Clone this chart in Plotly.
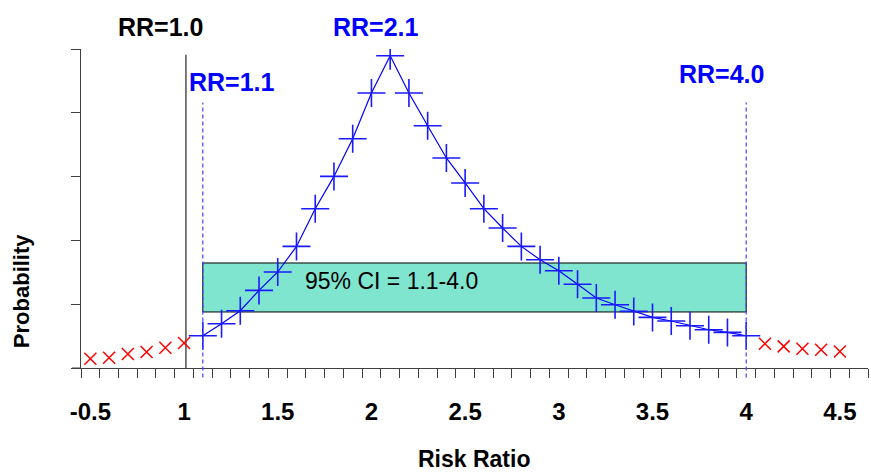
import plotly.graph_objects as go

# ---- data (y in axis units; y axis has 5 unlabeled intervals) ----
rr_low = [0.5, 0.6, 0.7, 0.8, 0.9, 1.0]
prob_low = [0.146, 0.161, 0.219, 0.251, 0.318, 0.392]

rr_ci = [1.1, 1.2, 1.3, 1.4, 1.5, 1.6, 1.7, 1.8, 1.9, 2.0,
         2.1, 2.2, 2.3, 2.4, 2.5, 2.6, 2.7, 2.8, 2.9, 3.0,
         3.1, 3.2, 3.3, 3.4, 3.5, 3.6, 3.7, 3.8, 3.9, 4.0]
prob_ci = [0.506, 0.694, 0.898, 1.216, 1.505, 1.906, 2.497, 3.003, 3.594, 4.310,
           4.895, 4.310, 3.798, 3.292, 2.900, 2.497, 2.194, 1.906, 1.697, 1.525,
           1.313, 1.097, 0.992, 0.887, 0.793, 0.737, 0.663, 0.600, 0.558, 0.506]

rr_high = [4.1, 4.2, 4.3, 4.4, 4.5]
prob_high = [0.381, 0.339, 0.303, 0.287, 0.260]

tick_label_vals = [0.5, 1.0, 1.5, 2.0, 2.5, 3.0, 3.5, 4.0, 4.5]
tick_label_text = ["-0.5", "1", "1.5", "2", "2.5", "3", "3.5", "4", "4.5"]

ci_low, ci_high = 1.1, 4.0
ci_box_bottom, ci_box_top = 0.878, 1.646
null_rr = 1.01
null_line_top = 4.91
ci_line_top = 4.16
y_max = 5

FONT = "Arial, Liberation Sans, sans-serif"
AXIS_COLOR = "#404040"

# category tick marks sit between categories
all_cats = rr_low + rr_ci + rr_high + [4.6]
minor_ticks = [round(c - 0.05, 2) for c in all_cats] + [round(all_cats[-1] + 0.05, 2)]

fig = go.Figure()

fig.add_trace(go.Scatter(
    x=rr_low, y=prob_low, mode="markers",
    marker=dict(symbol="x-thin", size=12, line=dict(width=1.5, color="#FF0000")),
    showlegend=False, hoverinfo="x+y"))

fig.add_trace(go.Scatter(
    x=rr_ci, y=prob_ci, mode="lines+markers",
    line=dict(color="#0000FF", width=1.2),
    marker=dict(symbol="cross-thin", size=20, line=dict(width=1.6, color="#1A1AFF")),
    showlegend=False, hoverinfo="x+y"))

fig.add_trace(go.Scatter(
    x=rr_high, y=prob_high, mode="markers",
    marker=dict(symbol="x-thin", size=12, line=dict(width=1.5, color="#FF0000")),
    showlegend=False, hoverinfo="x+y"))

shapes = [
    # CI box
    dict(type="rect", xref="x", yref="y", x0=ci_low, x1=ci_high,
         y0=ci_box_bottom, y1=ci_box_top, fillcolor="#80E5CF",
         line=dict(color="black", width=1), layer="below"),
    # RR = 1.0 line
    dict(type="line", xref="x", yref="y", x0=null_rr, x1=null_rr, y0=0, y1=null_line_top,
         line=dict(color="#505050", width=1.5), layer="below"),
    # CI bound dashed lines
    dict(type="line", xref="x", yref="paper", x0=ci_low, x1=ci_low,
         y0=-0.03, y1=ci_line_top / y_max, line=dict(color="#4040FF", width=1.2, dash="4px,3px")),
    dict(type="line", xref="x", yref="paper", x0=ci_high, x1=ci_high,
         y0=-0.03, y1=ci_line_top / y_max, line=dict(color="#4040FF", width=1.2, dash="4px,3px")),
    # x axis line extension to the left of y axis
    dict(type="line", xref="paper", yref="paper", x0=-0.0115, x1=0, y0=0, y1=0,
         line=dict(color=AXIS_COLOR, width=1)),
]


def label(text, x, y, size, color="black", angle=0):
    return dict(text=text, x=x, y=y, xref="paper", yref="paper",
                xanchor="center", yanchor="middle", showarrow=False,
                textangle=angle, font=dict(size=size, color=color, family=FONT))


annotations = [
    label("<b>RR=1.0</b>", 0.101, 1.069, 25),
    label("<b>RR=1.1</b>", 0.1915, 0.8966, 25, "#0000FF"),
    label("<b>RR=2.1</b>", 0.3746, 1.069, 25, "#0000FF"),
    label("<b>RR=4.0</b>", 0.8137, 0.921, 25, "#0000FF"),
    label("95% CI = 1.1-4.0", 0.3947, 0.2733, 23),
    label("<b>Probability</b>", -0.0762, 0.241, 22, angle=-90),
    label("<b>Risk Ratio</b>", 0.4994, -0.285, 23),
]

fig.update_layout(
    width=871, height=475,
    margin=dict(l=81, r=3, t=49, b=107),
    paper_bgcolor="white", plot_bgcolor="white",
    shapes=shapes, annotations=annotations,
    font=dict(family=FONT, color="black"),
    xaxis=dict(
        range=[0.45, 4.65], showgrid=False, zeroline=False,
        showline=True, linecolor=AXIS_COLOR, linewidth=1,
        tickmode="array", tickvals=tick_label_vals, ticktext=tick_label_text,
        ticks="", ticklabelstandoff=22,
        tickfont=dict(size=24, family=FONT, color="black", weight="bold"),
        minor=dict(tickmode="array", tickvals=minor_ticks, ticks="outside",
                   ticklen=9, tickwidth=1, tickcolor=AXIS_COLOR, showgrid=False),
    ),
    yaxis=dict(
        range=[0, y_max], showgrid=False, zeroline=False,
        showline=True, linecolor=AXIS_COLOR, linewidth=1,
        tickmode="array", tickvals=[0, 1, 2, 3, 4, 5],
        ticks="outside", ticklen=9, tickwidth=1, tickcolor=AXIS_COLOR,
        showticklabels=False,
    ),
)

fig.write_html("out.html", config={"displayModeBar": False},
               post_script="document.body.style.margin='0';")
